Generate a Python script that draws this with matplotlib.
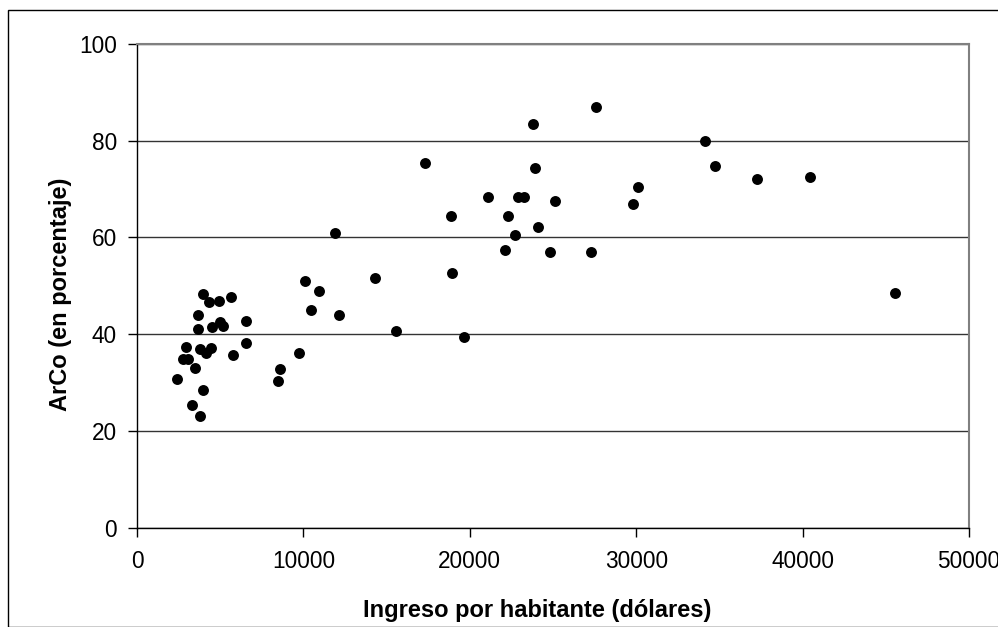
import matplotlib
matplotlib.use("Agg")
import matplotlib.pyplot as plt
from matplotlib.patches import Rectangle

plt.rcParams['font.family'] = ['Liberation Sans', 'DejaVu Sans']

# Ingreso por habitante (dólares)
ingreso = [
    10080, 10930, 10460, 12150, 3970, 4330, 4900, 5650, 3670, 6580,
    3670, 4530, 4990, 5140, 6580, 2950, 3770, 4130, 4430, 2770,
    3050, 5750, 3510, 2390, 8580, 8500, 9720, 3970, 3290, 3770,
    27560, 23810, 17320, 23910, 21090, 22870, 23230, 25120, 18850, 22310,
    24090, 11870, 22690, 22110, 24830, 27300, 14310, 18920,
    15540, 19660,
    34150, 34720, 30110, 29830, 37280, 40470,
    45560,
]
# ArCo (en porcentaje)
arco = [
    51.0, 49.0, 45.0, 44.0, 48.3, 46.7, 46.9, 47.7, 44.0, 42.7,
    41.0, 41.4, 42.5, 41.7, 38.1, 37.4, 37.0, 36.1, 37.1, 34.8,
    34.8, 35.7, 33.1, 30.8, 32.9, 30.3, 36.1, 28.5, 25.3, 23.2,
    87.0, 83.4, 75.4, 74.4, 68.4, 68.4, 68.4, 67.5, 64.5, 64.5,
    62.2, 60.9, 60.5, 57.5, 56.9, 56.9, 51.6, 52.7,
    40.7, 39.4,
    80.0, 74.7, 70.4, 66.8, 72.1, 72.4,
    48.6,
]

x_ticks = [0, 10000, 20000, 30000, 40000, 50000]
y_ticks = [0, 20, 40, 60, 80, 100]

W, H = 998, 627
fig = plt.figure(figsize=(W / 100, H / 100), dpi=100)
fig.patch.set_facecolor('white')

# outer chart frame
fig.patches.append(Rectangle((8 / W, 0), 1.2, 1 - 10 / H, transform=fig.transFigure,
                             fill=False, edgecolor='black', linewidth=1.0))

ax = fig.add_axes([137 / W, 1 - 528 / H, (969 - 137) / W, (528 - 43.7) / H])
ax.scatter(ingreso, arco, s=62, color='black', linewidths=0, zorder=3)

ax.set_xlim(0, 50000)
ax.set_ylim(0, 100)
ax.set_xticks(x_ticks)
ax.set_yticks(y_ticks)
ax.set_xticklabels([str(v) for v in x_ticks])
ax.set_yticklabels([str(v) for v in y_ticks])

ax.grid(axis='y', color='#333333', linewidth=1.0)
ax.set_axisbelow(True)

for s in ['left', 'bottom']:
    ax.spines[s].set_color('black')
    ax.spines[s].set_linewidth(1.0)
for s in ['top', 'right']:
    ax.spines[s].set_color('#808080')
    ax.spines[s].set_linewidth(1.5)

ax.tick_params(axis='both', direction='out', length=6.5, width=1.0, color='black',
               labelsize=16.3)
ax.tick_params(axis='x', pad=9)
ax.tick_params(axis='y', pad=8)

ax.set_xlabel('Ingreso por habitante (dólares)', fontsize=17, fontweight='bold', labelpad=19)
ax.set_ylabel('ArCo (en porcentaje)', fontsize=17, fontweight='bold', labelpad=5)
ax.xaxis.label.set_x(0.481)
ax.yaxis.label.set_y(0.483)

fig.savefig('out.png', dpi=100, facecolor='white')
